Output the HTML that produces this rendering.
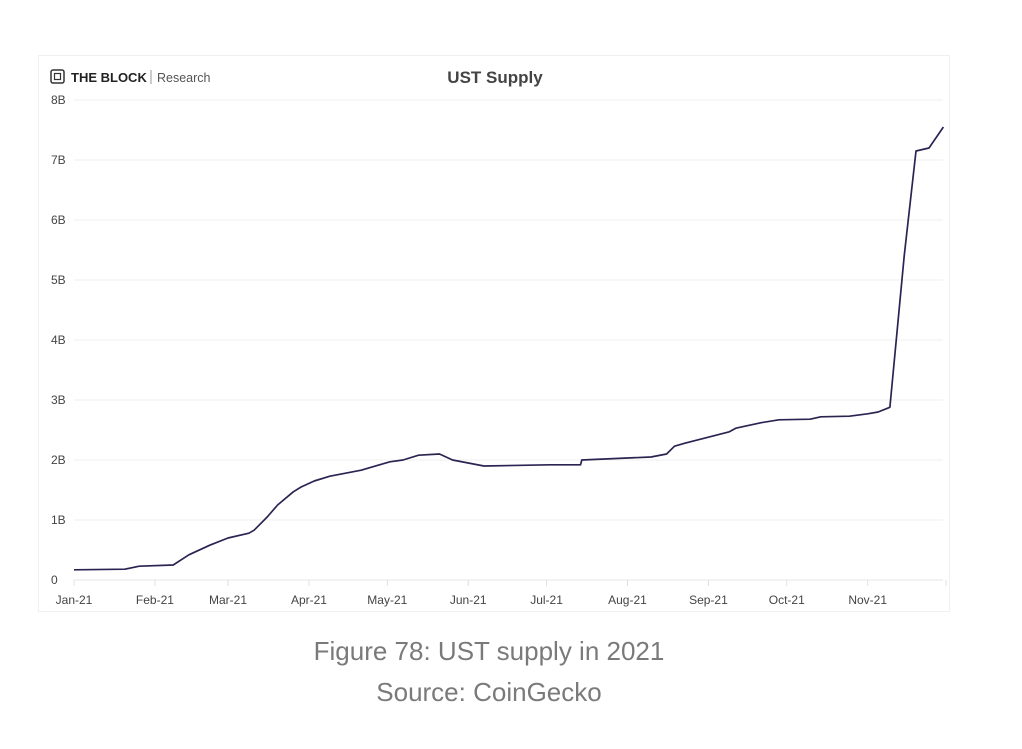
<!DOCTYPE html>
<html><head><meta charset="utf-8"><style>
body{margin:0;background:#fff;width:1022px;height:749px;overflow:hidden;font-family:"Liberation Sans",sans-serif}
#card{position:absolute;left:38px;top:55px;width:912px;height:557px;border:1px solid #f0f0f0;box-sizing:border-box}
.cap{position:absolute;left:0;width:978px;text-align:center;color:#7a7a7a;font-size:26px}
</style></head><body>
<div id="card"></div>
<svg id="chart" width="1022" height="640" style="position:absolute;left:0;top:0">
<g>
<rect x="51" y="70" width="13" height="13" rx="2" fill="none" stroke="#333" stroke-width="1.5"/>
<rect x="54.5" y="73.5" width="6" height="6" fill="none" stroke="#333" stroke-width="1.2"/>
<text x="71" y="82" font-size="13" font-weight="bold" fill="#222">THE BLOCK</text>
<line x1="151" y1="70" x2="151" y2="84" stroke="#999"/>
<text x="157" y="82" font-size="12.5" fill="#555">Research</text>
</g>
<text x="495" y="83" text-anchor="middle" font-size="17" font-weight="bold" fill="#444">UST Supply</text>
<g id="grid"></g><g id="xaxis"></g>
<path id="line" fill="none" stroke="#2b2452" stroke-width="1.7" stroke-linejoin="round"/>
</svg>
<div class="cap" style="top:636px">Figure 78: UST supply in 2021</div>
<div class="cap" style="top:677px">Source: CoinGecko</div>
<script>
const yTicks=[0,1,2,3,4,5,6,7,8];
const yLabels=["0","1B","2B","3B","4B","5B","6B","7B","8B"];
const months=["Jan-21","Feb-21","Mar-21","Apr-21","May-21","Jun-21","Jul-21","Aug-21","Sep-21","Oct-21","Nov-21"];
const monthDays=[0,31,59,90,120,151,181,212,243,273,304,334];
const days=[0,19.5,25,38,44,52,59,67,69,74,78,84,87,92,98,110,117,121,126,132,140,145,157,182,194,194.5,221,227,230,234,251,253.5,263,270,282,286,297,304,308,312,312.5,318,322.5,327.5,333];
const supply=[0.17,0.18,0.23,0.25,0.42,0.58,0.7,0.78,0.83,1.05,1.25,1.47,1.55,1.65,1.73,1.83,1.92,1.97,2.0,2.08,2.1,2.0,1.9,1.92,1.92,2.0,2.05,2.1,2.23,2.28,2.47,2.53,2.62,2.67,2.68,2.72,2.73,2.77,2.8,2.87,2.88,5.4,7.15,7.2,7.55];
const X=d=>74+d*(946-74)/334, Y=v=>580-v*60;
const ns="http://www.w3.org/2000/svg";
const g=document.getElementById('grid'),xa=document.getElementById('xaxis');
yTicks.forEach((t,i)=>{
 const l=document.createElementNS(ns,'line');
 l.setAttribute('x1',74);l.setAttribute('x2',943);l.setAttribute('y1',Y(t));l.setAttribute('y2',Y(t));
 l.setAttribute('stroke',t===0?'#e4e4e4':'#efefef');
 
 
 g.appendChild(l);
 const tx=document.createElementNS(ns,'text');
 tx.setAttribute('x',51);tx.setAttribute('y',Y(t)+4);tx.setAttribute('font-size','12');tx.setAttribute('fill','#444');
 tx.textContent=yLabels[i];
 
 
 g.appendChild(tx);
});
monthDays.forEach((d,i)=>{
 const l=document.createElementNS(ns,'line');
 l.setAttribute('x1',X(d));l.setAttribute('x2',X(d));l.setAttribute('y1',580);l.setAttribute('y2',586);l.setAttribute('stroke','#e0e0e0');
 
 
 xa.appendChild(l);
 if(i<months.length){
  const tx=document.createElementNS(ns,'text');
  tx.setAttribute('x',X(d));tx.setAttribute('y',604);tx.setAttribute('font-size','12');tx.setAttribute('fill','#444');tx.setAttribute('text-anchor','middle');
  tx.textContent=months[i];
  
  
  xa.appendChild(tx);
 }
});
document.getElementById('line').setAttribute('d',days.map((d,i)=>(i?'L':'M')+X(d).toFixed(1)+','+Y(supply[i]).toFixed(1)).join(''));
</script>
</body></html>
